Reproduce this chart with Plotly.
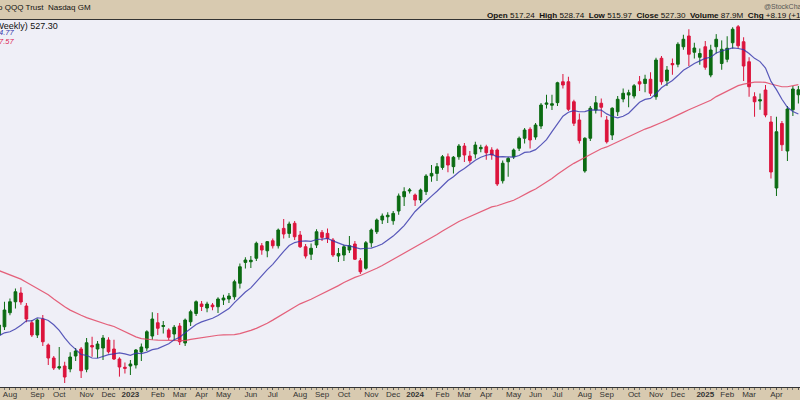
import pandas as pd
import plotly.graph_objects as go

# ---- data (weekly, Monday dates) ----
start = "2022-07-18"
opens = [292.8, 299.4, 310.6, 319.4, 326.4, 316.0, 302.6, 292.8, 305.6, 284.8,
         274.4, 266.4, 268.0, 265.6, 276.0, 281.6, 265.4, 284.4, 281.6, 282.4,
         288.8, 281.6, 273.6, 267.0, 268.0, 268.8, 279.2, 282.4, 292.0, 302.6,
         299.6, 296.8, 293.6, 300.0, 286.4, 303.4, 310.0, 317.6, 314.4, 316.8,
         315.4, 320.8, 321.6, 323.4, 334.2, 350.9, 351.4, 354.2, 364.2, 360.2,
         368.2, 364.2, 378.1, 374.1, 382.2, 372.8, 363.4, 357.4, 364.8, 374.9,
         374.1, 368.8, 356.0, 356.8, 360.8, 365.6, 352.2, 346.2, 366.6, 375.4,
         384.8, 387.4, 384.2, 392.0, 403.4, 408.0, 404.8, 400.8, 407.5, 420.0,
         422.1, 426.9, 435.4, 427.5, 435.4, 444.0, 436.0, 437.6, 441.8, 443.4,
         440.8, 440.8, 416.2, 431.4, 435.4, 442.2, 450.2, 457.4, 451.2, 460.0,
         477.4, 476.6, 478.7, 495.4, 495.4, 479.4, 464.8, 424.0, 450.2, 472.8,
         478.2, 464.8, 452.8, 471.4, 481.6, 484.8, 484.0, 495.4, 494.0, 497.4,
         483.4, 514.2, 496.2, 510.0, 509.4, 523.4, 532.0, 519.0, 515.0, 523.4,
         500.8, 523.4, 510.0, 513.4, 526.6, 539.4, 527.4, 511.4, 483.4, 480.0,
         488.8, 463.2, 410.4, 462.0, 440.0, 473.0, 485.0]
highs = [303.0, 319.4, 322.0, 330.0, 331.0, 318.4, 304.8, 306.0, 308.8, 286.0,
         276.0, 283.2, 271.4, 279.0, 282.4, 283.2, 290.4, 291.4, 288.0, 292.8,
         291.0, 289.0, 275.0, 270.8, 272.8, 281.6, 286.0, 296.6, 311.0, 310.4,
         304.0, 298.2, 300.8, 302.4, 306.0, 313.0, 320.5, 320.0, 319.4, 318.4,
         323.0, 325.0, 326.4, 337.0, 350.0, 355.0, 356.0, 367.5, 366.4, 368.0,
         370.0, 378.0, 385.6, 383.5, 384.0, 376.0, 365.6, 366.0, 377.4, 376.8,
         378.0, 370.4, 362.4, 365.0, 372.0, 368.0, 354.4, 368.0, 378.0, 386.0,
         390.0, 391.0, 392.0, 406.0, 411.0, 410.4, 406.0, 410.0, 421.5, 428.8,
         430.4, 436.8, 438.0, 436.0, 445.6, 446.4, 440.0, 447.4, 445.0, 445.0,
         443.0, 442.0, 432.4, 435.4, 442.0, 451.6, 458.4, 459.0, 462.4, 478.4,
         485.0, 485.0, 495.4, 501.6, 499.4, 481.0, 470.0, 451.0, 476.0, 484.0,
         482.0, 468.0, 475.0, 484.0, 490.0, 489.0, 493.6, 500.0, 501.0, 503.0,
         514.6, 516.0, 508.0, 514.0, 527.0, 533.0, 537.4, 526.6, 522.0, 528.0,
         525.0, 533.5, 528.5, 531.8, 539.0, 540.8, 531.0, 515.0, 487.0, 486.0,
         492.8, 468.0, 467.4, 464.0, 476.0, 492.0, 492.0]
lows = [289.0, 296.8, 308.6, 314.0, 317.0, 303.0, 291.2, 290.4, 284.0, 268.8,
        264.8, 265.0, 254.4, 263.0, 272.0, 258.4, 263.0, 275.4, 274.4, 272.8,
        278.0, 272.8, 259.5, 262.0, 260.8, 266.0, 272.0, 280.0, 289.0, 292.8,
        294.0, 288.8, 288.0, 284.8, 284.0, 300.0, 308.0, 312.0, 311.0, 312.6,
        310.4, 316.8, 318.4, 321.0, 330.0, 346.0, 346.4, 352.0, 357.0, 355.0,
        362.0, 362.0, 370.0, 370.5, 368.8, 362.4, 354.0, 352.8, 362.4, 368.0,
        366.4, 355.2, 351.2, 352.0, 358.4, 352.8, 341.6, 345.0, 363.0, 373.6,
        381.6, 382.4, 381.0, 389.0, 396.0, 406.0, 396.0, 398.4, 404.8, 415.4,
        416.0, 425.0, 423.0, 422.0, 433.0, 431.2, 430.0, 434.0, 439.0, 433.0,
        433.0, 412.0, 414.0, 419.4, 433.6, 440.0, 446.0, 442.0, 449.0, 457.6,
        474.0, 472.8, 476.0, 490.0, 472.0, 460.0, 446.0, 422.6, 448.0, 470.0,
        467.0, 446.0, 448.8, 468.0, 479.0, 475.0, 482.0, 488.0, 487.0, 484.0,
        481.0, 493.0, 492.0, 501.0, 507.0, 521.0, 508.0, 514.0, 509.0, 505.0,
        499.0, 518.0, 505.0, 511.0, 522.0, 522.0, 496.0, 483.4, 467.4, 473.0,
        467.0, 418.0, 404.0, 440.0, 432.0, 468.0, 478.0]
closes = [300.8, 312.8, 319.4, 327.4, 319.2, 305.6, 292.8, 304.8, 287.4, 274.4,
          266.4, 267.4, 259.2, 275.2, 280.0, 264.2, 286.6, 283.2, 285.6, 290.4,
          279.4, 273.6, 267.2, 266.2, 269.6, 280.8, 283.2, 295.4, 305.6, 298.2,
          300.4, 291.0, 299.0, 287.4, 304.8, 311.4, 319.4, 315.6, 317.6, 315.4,
          321.6, 322.4, 324.0, 335.4, 347.4, 352.8, 352.6, 366.2, 360.8, 367.5,
          364.2, 376.8, 373.6, 381.6, 371.4, 363.4, 356.0, 362.2, 375.4, 370.9,
          370.1, 356.8, 358.0, 363.4, 364.2, 353.4, 343.4, 366.6, 376.8, 384.8,
          388.0, 388.6, 390.1, 404.0, 407.5, 408.8, 400.8, 408.8, 420.0, 422.1,
          427.5, 435.4, 428.8, 435.0, 444.0, 436.8, 432.2, 444.8, 442.9, 438.6,
          436.8, 413.6, 430.2, 434.1, 440.8, 450.2, 456.8, 448.8, 460.8, 476.8,
          478.4, 477.8, 494.6, 492.8, 473.4, 462.2, 448.3, 450.2, 474.2, 478.6,
          475.0, 447.4, 474.2, 481.4, 486.2, 486.6, 492.2, 493.6, 497.5, 486.2,
          512.8, 495.4, 504.8, 509.0, 525.4, 529.4, 517.4, 522.4, 518.0, 507.0,
          520.8, 529.4, 521.4, 522.2, 537.4, 524.2, 508.0, 491.4, 479.4, 481.0,
          468.8, 423.2, 455.4, 445.0, 473.6, 489.6, 489.0]
# weekly closes before the visible window (only feed the moving averages)
prior_closes = [376.0, 386.1, 395.6, 394.0, 403.3, 394.0, 385.8, 397.6, 387.6, 398.9,
                397.9, 380.0, 380.0, 350.2, 359.0, 362.9, 347.9, 342.6, 346.8, 334.6,
                322.6, 349.0, 358.0, 362.0, 347.0, 338.0, 325.0, 313.2, 309.0, 307.0,
                288.5, 311.0, 305.0, 289.0, 271.4, 292.0, 280.6, 293.0, 290.0]

month_ticks = ["2022-08-01", "2022-09-05", "2022-10-03", "2022-11-07", "2022-12-05",
               "2023-01-02", "2023-02-06", "2023-03-06", "2023-04-03", "2023-05-01",
               "2023-06-05", "2023-07-03", "2023-08-07", "2023-09-04", "2023-10-02",
               "2023-11-06", "2023-12-04", "2024-01-01", "2024-02-05", "2024-03-04",
               "2024-04-01", "2024-05-06", "2024-06-03", "2024-07-01", "2024-08-05",
               "2024-09-02", "2024-10-07", "2024-11-04", "2024-12-02", "2025-01-06",
               "2025-02-03", "2025-03-03", "2025-04-07", "2025-05-05"]
month_labels = ["Aug", "Sep", "Oct", "Nov", "Dec", "<b>2023</b>", "Feb", "Mar", "Apr", "May",
                "Jun", "Jul", "Aug", "Sep", "Oct", "Nov", "Dec", "<b>2024</b>", "Feb", "Mar",
                "Apr", "May", "Jun", "Jul", "Aug", "Sep", "Oct", "Nov", "Dec", "<b>2025</b>",
                "Feb", "Mar", "Apr", "May"]

dates = pd.date_range(start, periods=len(closes), freq="7D")
all_closes = pd.Series(prior_closes + closes)
n_prior = len(prior_closes)
ma10 = all_closes.rolling(10).mean().iloc[n_prior:].values
ma40 = all_closes.rolling(40).mean().iloc[n_prior:].values

GREEN = "#0B6B12"
RED = "#DC143C"
TAN = "#D8CAB0"
BG = "#EFEFF7"

W, H = 800, 400
MT, MB = 20, 13

fig = go.Figure()
fig.add_trace(go.Scatter(x=dates, y=ma40, mode="lines",
                         line=dict(color="rgba(226,70,100,0.85)", width=1.2),
                         hoverinfo="skip", showlegend=False))
fig.add_trace(go.Scatter(x=dates, y=ma10, mode="lines",
                         line=dict(color="rgba(50,50,170,0.8)", width=1.2),
                         hoverinfo="skip", showlegend=False))
fig.add_trace(go.Candlestick(
    x=dates, open=opens, high=highs, low=lows, close=closes,
    increasing=dict(line=dict(color=GREEN, width=1), fillcolor=GREEN),
    decreasing=dict(line=dict(color=RED, width=1), fillcolor=RED),
    whiskerwidth=0, showlegend=False))

fig.update_layout(
    width=W, height=H,
    margin=dict(l=0, r=0, t=MT, b=MB, pad=0, autoexpand=False),
    paper_bgcolor=TAN, plot_bgcolor=BG,
    showlegend=False,
    font=dict(family="Liberation Sans, Arial, sans-serif", size=8, color="#222"),
    xaxis=dict(
        type="date", automargin=False,
        range=["2022-07-19 06:40", "2025-05-07 02:24"],
        rangeslider=dict(visible=False),
        tickmode="array", tickvals=month_ticks, ticktext=month_labels,
        ticks="outside", ticklen=2, tickcolor="#555", tickwidth=1,
        ticklabelstandoff=-3,
        tickfont=dict(family="Liberation Sans, Arial, sans-serif", size=8, color="#333"),
        minor=dict(ticks="outside", ticklen=2, tickcolor="#777", tickwidth=1,
                   dtick=604800000, tick0=start, showgrid=False),
        showgrid=False, zeroline=False,
        showline=True, linecolor="#333", linewidth=1, mirror=True,
        fixedrange=True,
    ),
    yaxis=dict(range=[251.2, 544.8], visible=False, showgrid=False, automargin=False,
               zeroline=False, fixedrange=True),
)

def px(x):
    return x / W

def py(y):
    return (H - MB - y) / (H - MT - MB)

ann = [
    dict(text="Invesco QQQ Trust  Nasdaq GM", x=px(93), y=py(7), xanchor="right",
         yanchor="middle", font=dict(size=8, color="#111")),
    dict(text="@StockCharts.com", x=px(762), y=py(6), xanchor="left", yanchor="middle",
         font=dict(size=7, color="#555")),
    dict(text="<b>Open</b> 517.24  <b>High</b> 528.74  <b>Low</b> 515.97  <b>Close</b> 527.30  "
              "<b>Volume</b> 87.9M  <b>Chg</b> +8.19 (+1.58%)",
         x=px(485), y=py(15.5), xanchor="left", yanchor="middle",
         font=dict(size=8.1, color="#111")),
    dict(text="QQQ (Weekly) 527.30", x=px(60), y=py(26), xanchor="right", yanchor="middle",
         font=dict(size=9, color="#111")),
    dict(text="<i>MA(10) 504.77</i>", x=px(15.5), y=py(33), xanchor="right",
         yanchor="middle", font=dict(size=7.5, color="#3333AA")),
    dict(text="<i>MA(40) 507.57</i>", x=px(16), y=py(41.5), xanchor="right",
         yanchor="middle", font=dict(size=7.5, color="#DD2255")),
]
for a in ann:
    a.update(xref="paper", yref="paper", showarrow=False)
fig.update_layout(annotations=ann)

fig.write_html("out.html", config={"displayModeBar": False},
               post_script="document.body.style.margin='0';document.body.style.padding='0';"
                           "document.documentElement.style.overflow='hidden';")
